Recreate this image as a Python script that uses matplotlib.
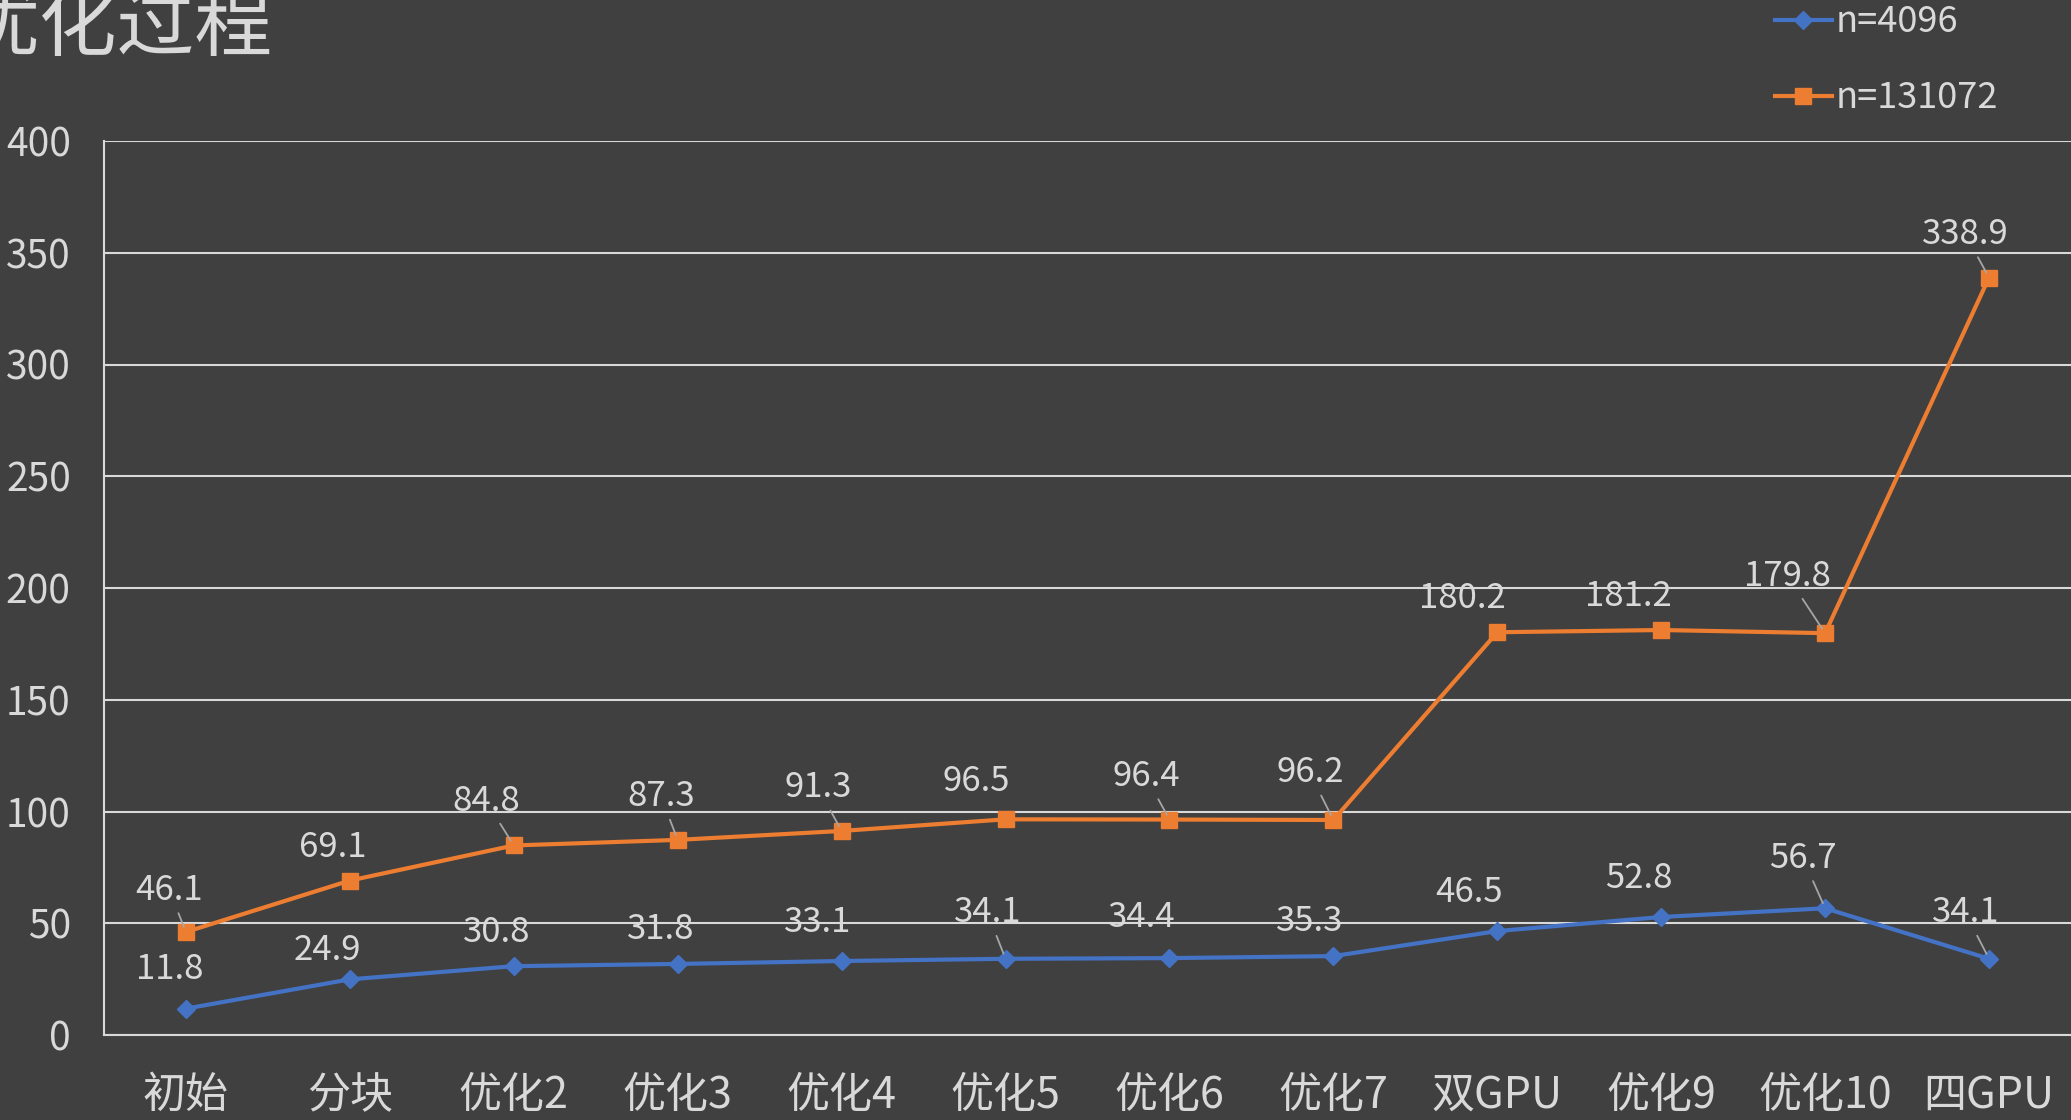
import matplotlib
matplotlib.use('Agg')
import matplotlib.pyplot as plt
import numpy as np

plt.rcParams['font.family'] = ['Noto Sans CJK SC', 'DejaVu Sans']

categories = ['初始', '分块', '优化2', '优化3', '优化4', '优化5', '优化6', '优化7',
              '双GPU', '优化9', '优化10', '四GPU']
n4096 = [11.8, 24.9, 30.8, 31.8, 33.1, 34.1, 34.4, 35.3, 46.5, 52.8, 56.7, 34.1]
n131072 = [46.1, 69.1, 84.8, 87.3, 91.3, 96.5, 96.4, 96.2, 180.2, 181.2, 179.8, 338.9]

# label placement (points, relative to the marker) and which ones get a leader line
off_blue = [(-12, 28), (-16, 21), (-12, 24), (-12, 25), (-17, 28), (-13, 33),
            (-20, 29), (-17, 25), (-20, 28), (-16, 28), (-16, 36), (-17, 33)]
off_orange = [(-12, 30), (-12, 24), (-20, 32), (-12, 31), (-17, 31), (-21, 27),
              (-17, 31), (-17, 34), (-25, 24), (-24, 24), (-27, 41), (-17, 31)]
lead_blue = [5, 10, 11]
lead_orange = [0, 2, 3, 4, 6, 7, 10, 11]

bg = '#404040'
fg = '#d9d9d9'
blue = '#4472C4'
orange = '#ED7D31'

fig = plt.figure(figsize=(20.71, 11.2), dpi=100, facecolor=bg)
ax = fig.add_axes([104 / 2071, 1 - 1035 / 1120, 1 - 104 / 2071, (1035 - 141) / 1120])
ax.set_facecolor(bg)

x = np.arange(len(categories))
ax.plot(x, n4096, '-D', color=blue, lw=3, markersize=9, label='n=4096', zorder=3)
ax.plot(x, n131072, '-s', color=orange, lw=3, markersize=11, label='n=131072', zorder=3)

def add_labels(vals, offs, leads):
    for i, v in enumerate(vals):
        ap = None
        if i in leads:
            ap = dict(arrowstyle='-', color='#a6a6a6', lw=1.3, shrinkA=2, shrinkB=4)
        ax.annotate('{:.1f}'.format(v), (x[i], v), xytext=offs[i], textcoords='offset points',
                    ha='center', va='center', fontsize=25, color=fg, arrowprops=ap, zorder=4)

add_labels(n4096, off_blue, lead_blue)
add_labels(n131072, off_orange, lead_orange)

ax.set_xlim(-0.5, len(categories) - 0.5)
ax.set_ylim(0, 400)
ax.set_yticks(np.arange(0, 401, 50))
ax.set_xticks(x)
ax.set_xticklabels(categories, fontsize=31, color=fg)
ax.tick_params(axis='y', labelsize=28, labelcolor=fg, length=0, pad=24)
ax.tick_params(axis='x', length=0, pad=28)
ax.yaxis.grid(True, color=fg, lw=1.5)
ax.set_axisbelow(True)
for s in ['right', 'top']:
    ax.spines[s].set_visible(False)
for s in ['left', 'bottom']:
    ax.spines[s].set_color(fg)
    ax.spines[s].set_linewidth(1.5)

fig.text(-0.019, 1.01, '优化过程', fontsize=56, color=fg, ha='left', va='top')

leg = fig.legend(loc='upper left', bbox_to_anchor=(1742 / 2071, 1.025), frameon=False,
                 fontsize=26, labelcolor=fg, handlelength=1.6, handletextpad=0.1,
                 labelspacing=1.1)

fig.savefig('out.png', dpi=100, facecolor=bg)
